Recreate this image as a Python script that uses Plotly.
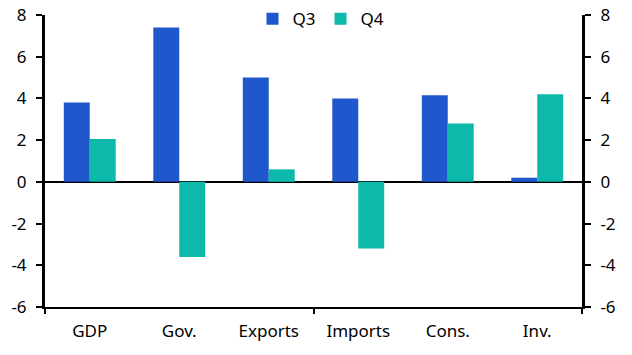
import plotly.graph_objects as go

categories = ["GDP", "Gov.", "Exports", "Imports", "Cons.", "Inv."]
q3 = [3.8, 7.4, 5.0, 4.0, 4.15, 0.2]
q4 = [2.05, -3.6, 0.6, -3.2, 2.8, 4.2]
yticks = [-6, -4, -2, 0, 2, 4, 6, 8]
ytick_labels = ["-6", "-4", "-2", "0", "2", "4", "6", "8"]

xpos = list(range(len(categories)))
FONT = "Noto Sans"

fig = go.Figure()
fig.add_trace(go.Bar(x=xpos, y=q3, name="Q3", marker_color="#1F57CC", marker_line_width=0))
fig.add_trace(go.Bar(x=xpos, y=q4, name="Q4", marker_color="#0DB9AA", marker_line_width=0))
fig.add_trace(go.Scatter(x=[0], y=[0], yaxis="y2", mode="markers", marker_opacity=0,
                         showlegend=False, hoverinfo="skip"))
fig.add_trace(go.Scatter(x=[0], y=[0], xaxis="x2", mode="markers", marker_opacity=0,
                         showlegend=False, hoverinfo="skip"))

fig.update_layout(
    width=632, height=355,
    margin=dict(l=45, r=50, t=15, b=48, autoexpand=False),
    paper_bgcolor="white", plot_bgcolor="white",
    font=dict(family=FONT, size=17, color="black"),
    barmode="group", bargap=0.42, bargroupgap=0,
    showlegend=True,
    legend=dict(orientation="h", x=0.514, xanchor="center", y=0.986, yanchor="middle",
                font=dict(size=17), itemwidth=30, tracegroupgap=0,
                bgcolor="rgba(0,0,0,0)", borderwidth=0),
    xaxis=dict(range=[-0.5, 5.5], tickvals=xpos, ticktext=categories, ticks="",
               showgrid=False, zeroline=False, showline=True, linecolor="black",
               linewidth=2, ticklabelstandoff=8, automargin=False),
    xaxis2=dict(range=[-0.5, 5.5], overlaying="x", tickvals=[-0.5, 2.5, 5.5], ticks="outside",
                ticklen=6, tickwidth=2, tickcolor="black", showticklabels=False,
                showgrid=False, zeroline=False, showline=False, side="bottom",
                automargin=False),
    yaxis=dict(range=[-6, 8], tickvals=yticks, ticktext=ytick_labels, ticks="outside",
               ticklen=6, tickwidth=2, tickcolor="black", showgrid=False, zeroline=True,
               zerolinecolor="black", zerolinewidth=2, showline=True, linecolor="black",
               linewidth=3, automargin=False, ticklabeloverflow="allow",
               ticklabelstandoff=6),
    yaxis2=dict(range=[-6, 8], tickvals=yticks, ticktext=ytick_labels, overlaying="y",
                side="right", ticks="outside", ticklen=6, tickwidth=2, tickcolor="black",
                showgrid=False, zeroline=False, showline=True, linecolor="black",
                linewidth=3, automargin=False, ticklabeloverflow="allow",
                ticklabelstandoff=6),
)

fig.write_html("out.html", config={"displayModeBar": False},
               post_script="document.body.style.margin='0';")
